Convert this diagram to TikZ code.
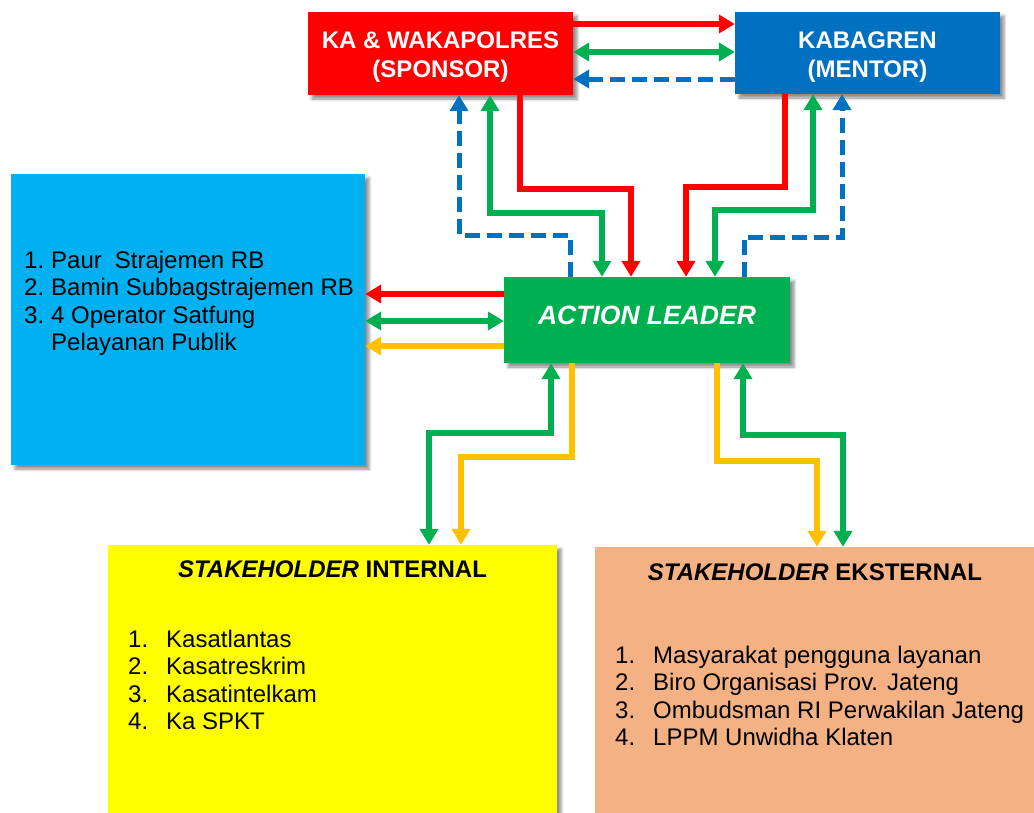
\documentclass[tikz,border=0pt]{standalone}
\usepackage{fontspec}
\setmainfont{Liberation Sans}
\usetikzlibrary{arrows.meta,shadows.blur}
\definecolor{cRed}{HTML}{FF0000}
\definecolor{cBlue}{HTML}{0070C0}
\definecolor{cGreen}{HTML}{00B050}
\definecolor{cCyan}{HTML}{00B0F0}
\definecolor{cYellow}{HTML}{FFFF00}
\definecolor{cPeach}{HTML}{F4B183}
\definecolor{cGold}{HTML}{FFC000}

\begin{document}
\begin{tikzpicture}[x=1pt,y=-1pt,
  box/.style={draw=none, inner sep=0pt,
    blur shadow={shadow xshift=4pt, shadow yshift=-4pt, shadow blur radius=3pt, shadow opacity=45}},
  headtxt/.style={inner sep=0pt, anchor=base, text=white, font=\fontsize{24}{29}\selectfont\bfseries},
  listtxt/.style={inner sep=0pt, anchor=base west, font=\fontsize{24}{27.5}\selectfont},
  titletxt/.style={inner sep=0pt, anchor=base, font=\fontsize{24}{28}\selectfont\bfseries},
  conn/.style={line width=5.5pt, line join=miter, -{Triangle[width=18pt,length=16pt]}},
  both/.style={conn, {Triangle[width=18pt,length=16pt]}-{Triangle[width=18pt,length=16pt]}},
  dashconn/.style={conn, line width=5pt, dash pattern=on 15pt off 7pt},
]
\useasboundingbox (0,0) rectangle (1034,812);

% boxes
\node[box, fill=cRed, minimum width=265pt, minimum height=83pt] (sp) at (440.5,53.5) {};
\node[box, fill=cBlue, minimum width=265pt, minimum height=82pt] (mt) at (867.5,53) {};
\node[box, fill=cGreen, minimum width=286pt, minimum height=86pt, text=white,
  font=\fontsize{26.5}{30}\selectfont\bfseries\itshape, text depth=9pt] (al) at (647,320)
  {ACTION LEADER};
\node[box, fill=cCyan, minimum width=354pt, minimum height=291pt] (lb) at (188,319.5) {};
\node[box, fill=cYellow, minimum width=449pt, minimum height=285pt] (ys) at (332.5,687.5) {};
\node[box, fill=cPeach, minimum width=450pt, minimum height=283pt] (es) at (820,688.5) {};

% titles of the two top boxes
\node[headtxt] (spt) at (440.5,48.5) {\begin{tabular}[t]{@{}c@{}}KA \& WAKAPOLRES\\(SPONSOR)\end{tabular}};
\node[headtxt] (mtt) at (867.5,48.5) {\begin{tabular}[t]{@{}c@{}}KABAGREN\\(MENTOR)\end{tabular}};

% texts inside the boxes
\node[listtxt] (lbt) at (24,268) {\begin{tabular}[t]{@{}l@{\hspace{7pt}}l@{}}
  1.&Paur\hspace{13pt}Strajemen RB\\
  2.&Bamin Subbagstrajemen RB\\
  3.&4 Operator Satfung\\
    &Pelayanan Publik
\end{tabular}};

\node[titletxt] (yst) at (332.5,577) {\textit{STAKEHOLDER} INTERNAL};
\node[listtxt] (ysl) at (128,647) {\begin{tabular}[t]{@{}l@{}}
  \makebox[38pt][l]{1.}Kasatlantas\\
  \makebox[38pt][l]{2.}Kasatreskrim\\
  \makebox[38pt][l]{3.}Kasatintelkam\\
  \makebox[38pt][l]{4.}Ka SPKT
\end{tabular}};

\node[titletxt] (est) at (815,580) {\textit{STAKEHOLDER} EKSTERNAL};
\node[listtxt] (esl) at (615,663) {\begin{tabular}[t]{@{}l@{}}
  \makebox[38pt][l]{1.}Masyarakat pengguna layanan\\
  \makebox[38pt][l]{2.}Biro Organisasi Prov. Jateng\\
  \makebox[38pt][l]{3.}Ombudsman RI Perwakilan Jateng\\
  \makebox[38pt][l]{4.}LPPM Unwidha Klaten
\end{tabular}};

% sponsor <-> mentor
\draw[conn, cRed] (sp.east |- 0,24) -- (mt.west |- 0,24);
\draw[both, cGreen] (sp.east |- 0,52) -- (mt.west |- 0,52);
\draw[dashconn, cBlue] (mt.west |- 0,79) -- (sp.east |- 0,79);

% sponsor <-> action leader
\draw[dashconn, cBlue] (al.north -| 570,0) -- (570,235) -- (459,235) -- (sp.south -| 459,0);
\draw[both, cGreen] (sp.south -| 490,0) -- (490,213) -- (602,213) -- (al.north -| 602,0);
\draw[conn, cRed] (sp.south -| 520,0) -- (520,189) -- (631,189) -- (al.north -| 631,0);

% mentor <-> action leader
\draw[conn, cRed] (mt.south -| 785,0) -- (785,187) -- (686,187) -- (al.north -| 686,0);
\draw[both, cGreen] (mt.south -| 813,0) -- (813,210) -- (715,210) -- (al.north -| 715,0);
\draw[dashconn, cBlue] (al.north -| 744,0) -- (744,237) -- (842,237) -- (mt.south -| 842,0);

% action leader <-> team
\draw[conn, cRed] (al.west |- 0,294) -- (lb.east |- 0,294);
\draw[both, cGreen] (lb.east |- 0,321) -- (al.west |- 0,321);
\draw[conn, cGold] (al.west |- 0,346) -- (lb.east |- 0,346);

% action leader <-> internal stakeholders
\draw[both, cGreen] (al.south -| 551,0) -- (551,433) -- (429,433) -- (ys.north -| 429,0);
\draw[conn, cGold] (al.south -| 572,0) -- (572,457) -- (461,457) -- (ys.north -| 461,0);

% action leader <-> external stakeholders
\draw[conn, cGold] (al.south -| 717,0) -- (717,461) -- (817,461) -- (es.north -| 817,0);
\draw[both, cGreen] (al.south -| 743,0) -- (743,435) -- (843,435) -- (es.north -| 843,0);
\end{tikzpicture}
\end{document}
